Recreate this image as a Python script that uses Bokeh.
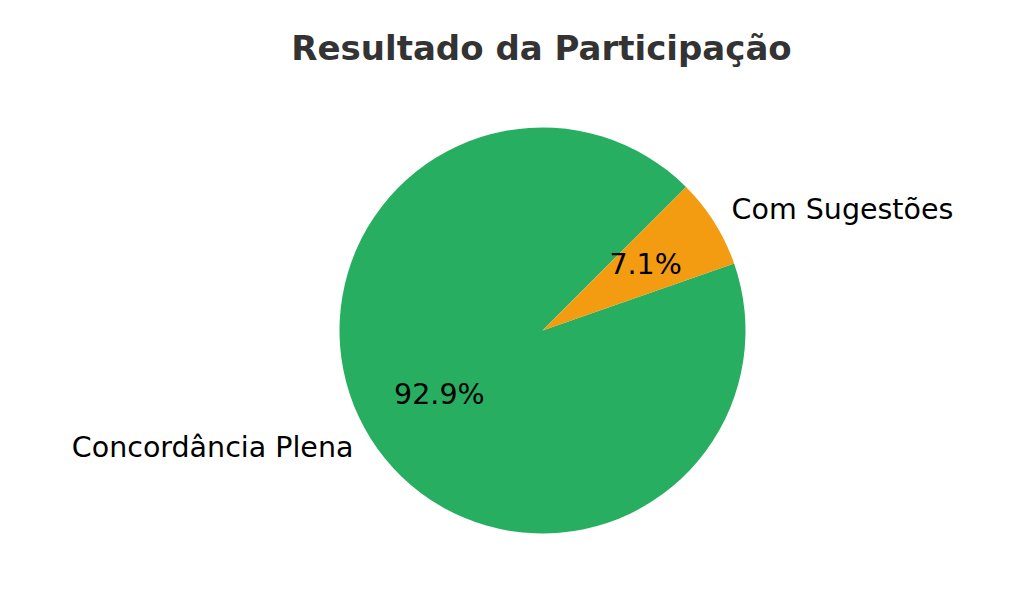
import numpy as np
from bokeh.plotting import figure
from bokeh.models import Range1d, ColumnDataSource
from bokeh.embed import file_html
from bokeh.resources import INLINE
from bokeh.core.properties import value

title_text = "Resultado da Participação"
categories = ["Concordância Plena", "Com Sugestões"]
counts = [13, 1]
colors = ["#27ae60", "#f39c12"]

W, H = 1008, 598
p = figure(width=W, height=H, x_range=Range1d(0, W), y_range=Range1d(614 - H, 614),
           output_backend="svg", toolbar_location=None, min_border=0)
p.axis.visible = False
p.grid.visible = False
p.outline_line_color = None
p.background_fill_color = "white"
p.border_fill_color = "white"

cx, cy, r = 542, 614 - 330, 203
start = np.deg2rad(45)
vals = np.array(counts, dtype=float)
frac = vals / vals.sum()
theta2 = start + 2 * np.pi * np.cumsum(frac)
theta1 = theta2 - 2 * np.pi * frac
mid = (theta1 + theta2) / 2

src = ColumnDataSource(dict(s=theta1, e=theta2, c=colors))
p.wedge(x=cx, y=cy, radius=r, start_angle="s", end_angle="e", fill_color="c",
        line_color=None, source=src)

font = value("DejaVu Sans")
for cat, m in zip(categories, mid):
    lx = cx + 1.1 * r * np.cos(m)
    ly = cy + 1.1 * r * np.sin(m)
    align = "left" if np.cos(m) > 0 else "right"
    p.text(x=[lx], y=[ly], text=[cat], text_font=font, text_font_size="28.5px",
           text_align=align, text_baseline="alphabetic", y_offset=-2, text_color="black")

for f, m in zip(frac, mid):
    tx = cx + 0.6 * r * np.cos(m)
    ty = cy + 0.6 * r * np.sin(m)
    p.text(x=[tx], y=[ty], text=["%.1f%%" % (f * 100)], text_font=font, text_font_size="28.5px",
           text_align="center", text_baseline="alphabetic", y_offset=-1, text_color="black")

p.text(x=[541], y=[614 - 47], text=[title_text], text_font=font, text_font_size="34px",
       text_font_style="bold", text_align="center", text_baseline="alphabetic", text_color="#333333")

open("out.html", "w").write(file_html(p, INLINE))
